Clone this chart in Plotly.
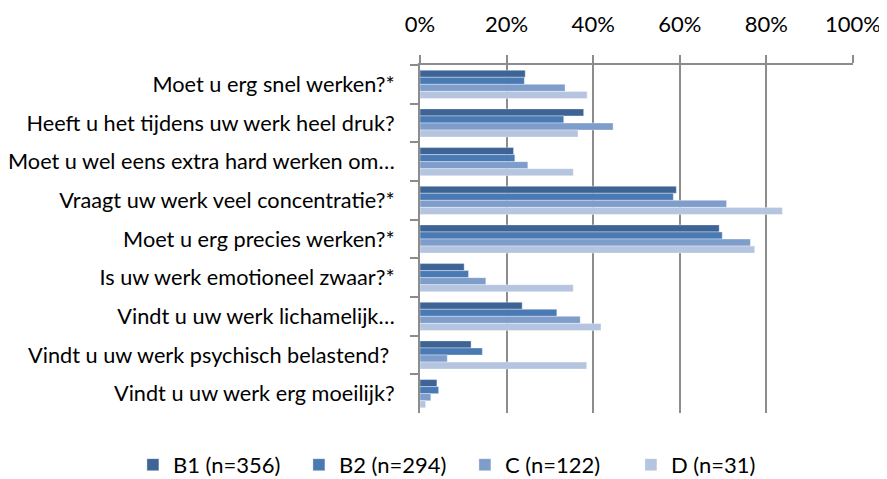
import plotly.graph_objects as go

categories = [
    "Moet u erg snel werken?*",
    "Heeft u het tijdens uw werk heel druk?",
    "Moet u wel eens extra hard werken om…",
    "Vraagt uw werk veel concentratie?*",
    "Moet u erg precies werken?*",
    "Is uw werk emotioneel zwaar?*",
    "Vindt u uw werk lichamelijk…",
    "Vindt u uw werk psychisch belastend? ",
    "Vindt u uw werk erg moeilijk?",
]
series_names = ["B1 (n=356)", "B2 (n=294)", "C (n=122)", "D (n=31)"]
b1 = [0.243, 0.378, 0.216, 0.592, 0.691, 0.102, 0.236, 0.118, 0.039]
b2 = [0.241, 0.332, 0.219, 0.585, 0.698, 0.112, 0.316, 0.144, 0.043]
c = [0.335, 0.446, 0.249, 0.708, 0.763, 0.152, 0.370, 0.063, 0.025]
d = [0.386, 0.365, 0.354, 0.837, 0.773, 0.354, 0.418, 0.385, 0.013]
tick_vals = [0, 0.2, 0.4, 0.6, 0.8, 1.0]
tick_text = ["0%", "20%", "40%", "60%", "80%", "100%"]
colors = ["#3E6496", "#4A7AB4", "#7F9DCA", "#B5C5E0"]

FONT = "Lato"
FS = 22
fig = go.Figure()
for name, vals, col in zip(series_names, [b1, b2, c, d], colors):
    fig.add_trace(go.Bar(
        y=categories, x=vals, name=name, orientation="h",
        marker=dict(color=col, line=dict(color="rgba(255,255,255,0.6)", width=0.6)),
    ))

# page body has an 8px margin, so the figure is 8px smaller and offsets compensate
fig.update_layout(
    width=879, height=471,
    margin=dict(l=412, r=34, t=57, b=66, autoexpand=False),
    paper_bgcolor="white", plot_bgcolor="white",
    barmode="group", bargap=0.27, bargroupgap=0,
    font=dict(family=FONT, size=FS, color="#000000"),
    legend=dict(orientation="h", xref="paper", yref="paper",
                x=-0.663, xanchor="left", y=-0.149, yanchor="middle",
                font=dict(size=FS), traceorder="normal", itemwidth=30,
                entrywidth=121, entrywidthmode="pixels"),
    showlegend=True,
)
fig.update_xaxes(
    side="top", range=[0, 1.0], tickvals=tick_vals, ticktext=tick_text,
    showgrid=True, gridcolor="#8C8C8C", gridwidth=2,
    showline=True, linecolor="#8C8C8C", linewidth=2,
    ticks="outside", ticklen=8, tickcolor="#8C8C8C", tickwidth=2,
    zeroline=False, tickfont=dict(size=FS), fixedrange=True,
    automargin=False, ticklabelstandoff=14,
)
fig.update_yaxes(
    autorange="reversed", showline=True, linecolor="#8C8C8C", linewidth=2,
    ticks="outside", ticklen=8, tickcolor="#8C8C8C", tickwidth=2,
    tickson="boundaries", showgrid=False, tickfont=dict(size=21.7),
    automargin=False, ticklabelstandoff=19,
)
fig.write_html("out.html")
